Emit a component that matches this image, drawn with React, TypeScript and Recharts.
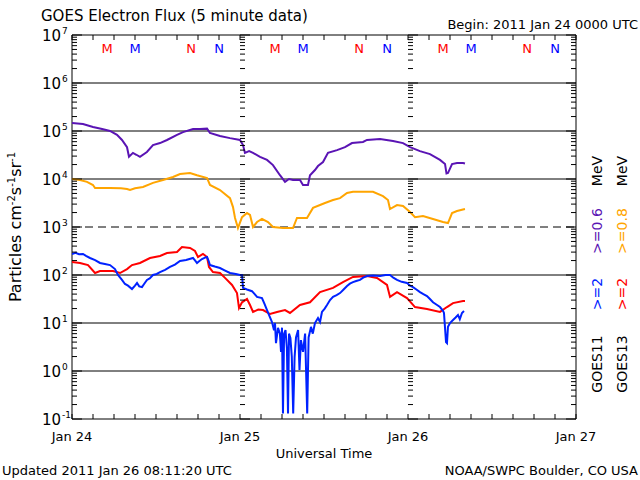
import { LineChart, Line, XAxis, YAxis, ReferenceLine, ReferenceArea, ReferenceDot } from "recharts";

// GOES electron flux, 5 minute data, hours since 2011 Jan 24 00:00 UTC
const goes11Lo: [number, number][] = [
  [0, 1.47e5], [1.57, 1.4e5], [3.0, 1.21e5], [4.3, 1.1e5], [5.43, 1.0e5], [6.43, 8.3e4], [7.14, 6.5e4],
  [7.86, 4.6e4], [8.14, 2.9e4], [8.71, 3.5e4], [9.2, 3.2e4], [9.71, 2.9e4], [10.7, 3.65e4],
  [11.57, 5.1e4], [12.57, 5.6e4], [13.57, 6.5e4], [15.0, 8.3e4], [15.86, 9.5e4], [17.29, 1.1e5],
  [18.29, 1.1e5], [19.29, 1.12e5], [19.71, 9.1e4], [21.14, 7.9e4], [22.57, 7.1e4], [24.0, 6.5e4],
  [24.43, 5.1e4], [24.71, 3.5e4], [25.3, 3.8e4], [25.86, 3.5e4], [26.86, 2.9e4], [27.86, 2.5e4],
  [28.71, 1.95e4], [29.71, 1.2e4], [30.43, 8.7e3], [31.0, 1.0e4], [31.57, 9.5e3], [32.57, 9.5e3],
  [33.0, 7.5e3], [33.71, 7.5e3], [34.0, 1.2e4], [34.71, 1.54e4], [35.14, 1.86e4], [35.86, 2.26e4],
  [36.57, 3.5e4], [37.86, 4.0e4], [39.0, 4.6e4], [40.0, 5.6e4], [41.57, 5.9e4], [42.14, 6.5e4],
  [44.0, 6.8e4], [45.86, 6.2e4], [47.29, 5.6e4], [48.29, 4.6e4], [49.71, 3.8e4], [51.14, 3.3e4],
  [52.57, 2.5e4], [53.29, 2.05e4], [53.5, 1.3e4], [53.71, 1.33e4], [54.29, 2.05e4], [55.0, 2.15e4],
  [55.86, 2.15e4], [56.14, 2.1e4],
];

const goes13Lo: [number, number][] = [
  [0, 1.0e4], [1.14, 9.5e3], [2.14, 8.7e3], [3.0, 7.5e3], [3.29, 6.5e3], [5.43, 6.5e3], [7.0, 6.4e3],
  [7.86, 6.2e3], [8.29, 5.9e3], [9.0, 6.4e3], [10.14, 6.8e3], [11.57, 8.3e3], [13.0, 9.5e3],
  [14.43, 1.1e4], [15.43, 1.27e4], [16.86, 1.33e4], [17.86, 1.2e4], [19.29, 1.05e4], [19.71, 7.5e3],
  [21.14, 5.9e3], [22.57, 4.0e3], [23.0, 2.6e3], [23.29, 1.54e3], [23.71, 950], [24.29, 1.6e3],
  [25.0, 1.95e3], [25.43, 1.78e3], [25.86, 1000], [26.43, 1.27e3], [27.14, 1.47e3], [28.0, 1.27e3],
  [28.71, 1000], [30.14, 950], [31.57, 950], [32.14, 1.54e3], [33.57, 1.54e3], [34.43, 2.5e3],
  [35.43, 2.87e3], [36.14, 3.16e3], [37.29, 3.65e3], [38.29, 4.0e3], [39.29, 5.1e3], [40.14, 5.4e3],
  [43.0, 5.4e3], [44.43, 4.4e3], [45.14, 3.65e3], [45.43, 2.37e3], [46.43, 2.87e3], [47.29, 2.74e3],
  [48.29, 2.05e3], [49.0, 1.6e3], [50.14, 1.7e3], [51.57, 1.47e3], [53.0, 1.27e3], [53.71, 1.21e3],
  [54.29, 1.95e3], [55.0, 2.15e3], [56.14, 2.37e3],
];

const goes13Hi: [number, number][] = [
  [0, 187], [1.14, 178], [2.29, 161], [3.29, 110], [4.0, 121], [5.86, 121], [6.86, 110], [7.86, 133],
  [8.57, 161], [9.71, 178], [11.14, 226], [12.57, 249], [13.57, 287], [15.0, 301], [15.71, 383],
  [16.86, 365], [17.57, 316], [18.0, 237], [18.71, 274], [19.29, 237], [19.57, 147], [20.14, 115],
  [21.14, 110], [21.86, 87], [22.86, 62], [23.57, 42], [23.86, 20.5], [24.29, 27], [25.0, 31.6],
  [25.43, 23.7], [25.86, 17], [26.6, 19], [27.29, 18.6], [28.29, 15.4], [29.29, 17], [30.43, 18.6],
  [31.14, 16.2], [32.57, 23.7], [34.0, 27], [35.43, 44], [37.29, 54], [38.71, 71], [40.14, 91],
  [42.14, 95], [43.57, 87], [45.0, 62], [45.43, 35], [46.43, 44], [47.86, 33], [49.0, 21.5],
  [50.71, 19.6], [52.57, 17], [53.57, 21.5], [54.43, 26], [55.86, 28.7], [56.14, 28.7],
];

const goes11Hi: [number, number][] = [
  [0, 274], [0.5, 290], [1.0, 270], [1.57, 274], [2.0, 250], [2.57, 226], [3.3, 205], [4.0, 178],
  [4.7, 170], [5.43, 161], [6.14, 133], [6.57, 100], [7.14, 79], [7.57, 65], [8.0, 60], [8.57, 51],
  [9.0, 60], [9.29, 68], [9.6, 58], [10.0, 56], [10.3, 65], [10.71, 79], [11.1, 85], [11.57, 100],
  [12.1, 105], [12.57, 115], [13.3, 128], [14.0, 147], [14.7, 165], [15.43, 196], [16.3, 205],
  [17.29, 226], [17.6, 200], [17.86, 178], [18.2, 195], [18.57, 215], [19.0, 230], [19.29, 237],
  [19.5, 200], [19.71, 161], [20.4, 150], [21.14, 140], [21.8, 125], [22.57, 110], [23.4, 105],
  [24.0, 100], [24.29, 100], [24.43, 54], [25.0, 50], [25.71, 46], [26.1, 40], [26.43, 35],
  [27.14, 33], [27.5, 25], [27.86, 18.6], [28.2, 14], [28.57, 10.5], [28.86, 7.1], [29.0, 10],
  [29.14, 3.8], [29.43, 7.9], [29.7, 6], [29.86, 2.5], [30.0, 8], [30.14, 0.13], [30.3, 6],
  [30.5, 7.1], [30.7, 3], [30.86, 0.13], [31.0, 6], [31.2, 4.9], [31.4, 2], [31.6, 0.13],
  [31.8, 1.95], [32.0, 5], [32.3, 7.1], [32.5, 1.05], [32.7, 4.4], [33.0, 2.5], [33.3, 6],
  [33.6, 0.13], [33.8, 5], [34.14, 8.3], [34.4, 6], [34.71, 10], [35.14, 12.7], [35.43, 10.5],
  [35.71, 17], [36.1, 20], [36.43, 23.7], [36.86, 30], [37.29, 35], [37.8, 38], [38.29, 42],
  [38.8, 50], [39.29, 59], [39.7, 66], [40.14, 71], [40.6, 75], [41.14, 79], [41.6, 88], [42.14, 95],
  [43.0, 98], [44.0, 95], [44.8, 100], [45.43, 100], [45.9, 88], [46.43, 79], [47.1, 72],
  [47.86, 68], [48.3, 60], [48.71, 56], [49.2, 50], [49.71, 44], [50.2, 40], [50.71, 36.5],
  [51.1, 32], [51.57, 27], [52.1, 24], [52.57, 21.5], [53.0, 18], [53.14, 16.2], [53.29, 7.9],
  [53.43, 4], [53.57, 3.8], [53.71, 8.3], [54.0, 10], [54.43, 11.5], [54.8, 13], [55.14, 14.7],
  [55.4, 12], [55.71, 16.2], [56.0, 17.8],
];

// local midnight / noon markers per satellite (hours into each day)
const markerHours = [5, 9, 17, 21];
const markerLabels = ["M", "M", "N", "N"];
const markerColors = ["#ff0000", "#0000ff", "#ff0000", "#0000ff"];
const dayLabels = ["Jan 24", "Jan 25", "Jan 26", "Jan 27"];
const solidGrid = [1e6, 1e5, 1e4, 1e2, 1e1, 1];

const PURPLE = "#5a14b4";
const ORANGE = "#ffa500";
const RED = "#ff0000";
const BLUE = "#0022ff";
const FONT = "DejaVu Sans";

const PLOT_LEFT = 72;
const PLOT_RIGHT = 576;
const PLOT_TOP = 35;
const PLOT_BOTTOM = 419;
const PLOT_W = PLOT_RIGHT - PLOT_LEFT;
const MARK_LEVEL = 5.4e6;

const toPts = (arr: [number, number][]) => arr.map(([t, v]) => ({ t, v }));

const yTicks: number[] = [];
for (let e = -1; e <= 6; e++) {
  for (let m = 1; m <= 9; m++) yTicks.push(m * Math.pow(10, e));
}
yTicks.push(1e7);
const xTicks = Array.from({ length: 25 }, (_, i) => i * 3);

const YTick = (props: any) => {
  const { y, payload } = props;
  const v = payload.value;
  const e = Math.floor(Math.log10(v) + 1e-9);
  const major = Math.abs(v / Math.pow(10, e) - 1) < 1e-6;
  const len = major ? 10 : 5;
  const inner = [PLOT_LEFT, PLOT_LEFT + PLOT_W / 3, PLOT_LEFT + (2 * PLOT_W) / 3];
  return (
    <g>
      {inner.map((x) => (
        <line key={x} x1={x} x2={x + len} y1={y} y2={y} stroke="#000" />
      ))}
      <line x1={PLOT_RIGHT} x2={PLOT_RIGHT - len} y1={y} y2={y} stroke="#000" />
      {major && (
        <text x={61} y={y + 6} textAnchor="end" fontSize={15} fontFamily={FONT} fill="#000">
          10
        </text>
      )}
      {major && (
        <text x={62} y={y - 1} fontSize={9} fontFamily={FONT} fill="#000">
          {e}
        </text>
      )}
    </g>
  );
};

const XTick = (props: any) => {
  const { x, payload } = props;
  const t = payload.value;
  return (
    <g>
      <line x1={x} x2={x} y1={PLOT_BOTTOM} y2={PLOT_BOTTOM - 5} stroke="#000" />
      <line x1={x} x2={x} y1={PLOT_TOP} y2={PLOT_TOP + 5} stroke="#000" />
      {t % 24 === 0 && (
        <text x={x} y={441} textAnchor="middle" fontSize={13} fontFamily={FONT} fill="#000">
          {dayLabels[t / 24]}
        </text>
      )}
    </g>
  );
};

const markers = [0, 1, 2].flatMap((d) =>
  markerHours.map((h, i) => ({ t: d * 24 + h, label: markerLabels[i], color: markerColors[i] }))
);

const RotText = ({ x, y, color, children }: any) => (
  <text
    x={x}
    y={y}
    transform={`rotate(-90 ${x} ${y})`}
    textAnchor="middle"
    fontSize={14}
    fontFamily={FONT}
    fill={color}
  >
    {children}
  </text>
);

export default function App() {
  return (
    <div style={{ position: "absolute", left: 0, top: 0, width: 640, height: 480, background: "#fff" }}>
      <LineChart width={640} height={480} margin={{ top: 35, right: 64, bottom: 31, left: 12 }}>
        <XAxis
          dataKey="t"
          type="number"
          domain={[0, 72]}
          ticks={xTicks}
          interval={0}
          height={30}
          axisLine={false}
          tickLine={false}
          tick={<XTick />}
          allowDataOverflow
        />
        <YAxis
          type="number"
          scale="log"
          domain={[0.1, 1e7]}
          ticks={yTicks}
          interval={0}
          width={60}
          axisLine={false}
          tickLine={false}
          tick={<YTick />}
          allowDataOverflow
        />
        <ReferenceArea x1={0} x2={72} y1={0.1} y2={1e7} fill="none" stroke="#000" strokeWidth={1} fillOpacity={0} />
        {solidGrid.map((g) => (
          <ReferenceLine key={g} y={g} stroke="#000" strokeWidth={1} />
        ))}
        <ReferenceLine y={1e3} stroke="#000" strokeWidth={1} strokeDasharray="8 5" />
        {markers.map((m, i) => (
          <ReferenceDot
            key={i}
            x={m.t}
            y={MARK_LEVEL}
            r={0}
            shape={(p: any) => (
              <text x={p.cx} y={p.cy + 5} textAnchor="middle" fontSize={13} fontFamily={FONT} fill={m.color}>
                {m.label}
              </text>
            )}
          />
        ))}
        <Line data={toPts(goes11Lo)} dataKey="v" stroke={PURPLE} strokeWidth={2} dot={false} isAnimationActive={false} />
        <Line data={toPts(goes13Lo)} dataKey="v" stroke={ORANGE} strokeWidth={2} dot={false} isAnimationActive={false} />
        <Line data={toPts(goes13Hi)} dataKey="v" stroke={RED} strokeWidth={2} dot={false} isAnimationActive={false} />
        <Line data={toPts(goes11Hi)} dataKey="v" stroke={BLUE} strokeWidth={2} dot={false} isAnimationActive={false} />
      </LineChart>
      <svg width={640} height={480} style={{ position: "absolute", left: 0, top: 0, pointerEvents: "none" }}>
        <text x={41} y={21} fontSize={15} fontFamily={FONT} fill="#000">
          GOES Electron Flux (5 minute data)
        </text>
        <text x={638} y={29} textAnchor="end" fontSize={13} fontFamily={FONT} fill="#000">
          Begin: 2011 Jan 24 0000 UTC
        </text>
        <text x={324} y={458} textAnchor="middle" fontSize={13} fontFamily={FONT} fill="#000">
          Universal Time
        </text>
        <text x={2} y={475} fontSize={13} fontFamily={FONT} fill="#000">
          Updated 2011 Jan 26 08:11:20 UTC
        </text>
        <text x={638} y={475} textAnchor="end" fontSize={13} fontFamily={FONT} fill="#000">
          NOAA/SWPC Boulder, CO USA
        </text>
        <text
          x={21}
          y={227}
          transform="rotate(-90 21 227)"
          textAnchor="middle"
          fontSize={16}
          fontFamily={FONT}
          fill="#000"
        >
          Particles cm<tspan dy={-6} fontSize={10}>-2</tspan>
          <tspan dy={6}>s</tspan>
          <tspan dy={-6} fontSize={10}>-1</tspan>
          <tspan dy={6}>sr</tspan>
          <tspan dy={-6} fontSize={10}>-1</tspan>
        </text>
        <RotText x={602} y={364} color="#000">GOES11</RotText>
        <RotText x={602} y={294} color={BLUE}>&gt;=2</RotText>
        <RotText x={602} y={231} color={PURPLE}>&gt;=0.6</RotText>
        <RotText x={602} y={171} color="#000">MeV</RotText>
        <RotText x={627} y={364} color="#000">GOES13</RotText>
        <RotText x={627} y={294} color={RED}>&gt;=2</RotText>
        <RotText x={627} y={231} color={ORANGE}>&gt;=0.8</RotText>
        <RotText x={627} y={171} color="#000">MeV</RotText>
      </svg>
    </div>
  );
}
